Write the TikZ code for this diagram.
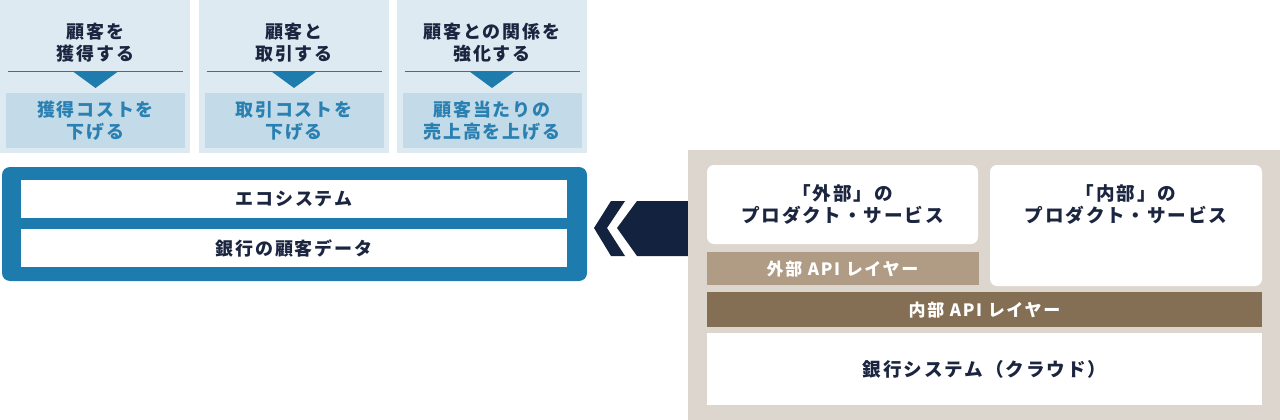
\documentclass[tikz,border=0pt]{standalone}
\usepackage{fontspec}
\newfontfamily\jp{Noto Sans CJK JP}[LetterSpace=10]
\definecolor{lb}{HTML}{DDEAF2}
\definecolor{lbb}{HTML}{C3DBE8}
\definecolor{bl}{HTML}{1E7BAE}
\definecolor{tb}{HTML}{2B80B2}
\definecolor{nv}{HTML}{1B2540}
\definecolor{chev}{HTML}{13223F}
\definecolor{beige}{HTML}{DDD6CE}
\definecolor{extc}{HTML}{B09B84}
\definecolor{intc}{HTML}{846F54}
\begin{document}
\begin{tikzpicture}[x=1pt,y=-1pt,
  box/.style={anchor=north west,inner sep=0pt,outer sep=0pt},
  txt/.style={font=\jp\bfseries\fontsize{18}{21.5}\selectfont, align=center, inner sep=0pt, text=nv},
  rtxt/.style={font=\jp\bfseries\fontsize{18.6}{22}\selectfont, align=center, inner sep=0pt, text=nv},
  stxt/.style={font=\jp\bfseries\fontsize{17}{20}\selectfont, align=center, inner sep=0pt, text=white},
]
\useasboundingbox (0,0) rectangle (1280,420);
% ---------- top goal columns
\foreach \i/\xa/\c/\ta/\tb in {1/0/95.5/{顧客を\\獲得する}/{獲得コストを\\下げる},
                              2/199/294/{顧客と\\取引する}/{取引コストを\\下げる},
                              3/397/492/{顧客との関係を\\強化する}/{顧客当たりの\\売上高を上げる}}{
  \node[box, fill=lb, minimum width=190pt, minimum height=153pt] (col\i) at (\xa,0) {};
  \node[txt] (title\i) at (\c,42.5) {\ta};
  \coordinate (la\i) at (\c-87.5,71.5);
  \coordinate (lb\i) at (\c+87.5,71.5);
  \draw[bl, line width=1.2pt] (la\i) -- (lb\i);
  \fill[bl] (\c-22.5,71.5) -- (\c+22.5,71.5) -- (\c,88) -- cycle;
  \node[box, fill=lbb, minimum width=179pt, minimum height=55pt] (low\i) at (\c-89.5,93) {};
  \node[txt, text=tb] (res\i) at (\c,121) {\tb};
}
% ---------- blue frame
\node[box, fill=bl, rounded corners=8pt, minimum width=585pt, minimum height=114pt] (frame) at (2,167) {};
\node[box, fill=white, minimum width=546pt, minimum height=38pt] (eco) at (21,180) {};
\node[txt] (ecot) at (294,199) {エコシステム};
\node[box, fill=white, minimum width=546pt, minimum height=38pt] (data) at (21,229) {};
\node[txt] (datat) at (294,248) {銀行の顧客データ};
% ---------- chevron
\fill[chev] (594,228) -- (611,201) -- (625,201) -- (607,228) -- (625,256) -- (611,256) -- cycle;
\fill[chev] (617,228) -- (637,201) -- (690,201) -- (690,256) -- (637,256) -- cycle;
% ---------- right panel
\node[box, fill=beige, minimum width=592pt, minimum height=270pt] (panel) at (688,150) {};
\node[box, fill=white, rounded corners=7pt, minimum width=271pt, minimum height=79pt] (extp) at (707,165) {};
\node[rtxt] (extpt) at (842.5,204.5) {「外部」の\\プロダクト・サービス};
\node[box, fill=white, rounded corners=7pt, minimum width=272pt, minimum height=121pt] (intp) at (990,165) {};
\node[rtxt] (intpt) at (1126,204.5) {「内部」の\\プロダクト・サービス};
\node[box, fill=extc, minimum width=272pt, minimum height=33pt] (extapi) at (707,252) {};
\node[stxt] (extapit) at (842.5,269) {外部 API レイヤー};
\node[box, fill=intc, minimum width=555pt, minimum height=35pt] (intapi) at (707,292) {};
\node[stxt] (intapit) at (984.5,310) {内部 API レイヤー};
\node[box, fill=white, minimum width=555pt, minimum height=72pt] (bank) at (707,333) {};
\node[rtxt] (bankt) at (984.5,369) {銀行システム（クラウド）};
\end{tikzpicture}
\end{document}
